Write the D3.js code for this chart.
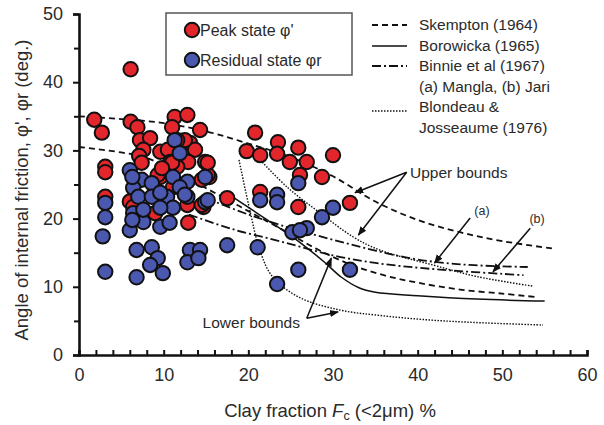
<!DOCTYPE html>
<html>
<head>
<meta charset="utf-8">
<script src="https://cdn.jsdelivr.net/npm/d3@7"></script>
<style>
  html, body { margin: 0; padding: 0; background: #fff; }
  svg { display: block; font-family: Arial, "Liberation Sans", sans-serif; }
</style>
</head>
<body>
<svg id="chart" width="604" height="425"></svg>
<script>
// Peak friction angle φ' (clay fraction %, degrees)
const peakPoints = [
  [1.8,34.5],[2.7,32.6],[3.1,27.6],[3.1,26.8],[3.1,23.2],[6.1,41.9],[6.1,34.2],[6.9,33.4],
  [11.3,34.9],[12.8,35.2],[11.0,33.4],[14.3,33.0],[7.2,31.5],[8.4,31.8],[7.6,30.1],[9.6,29.8],
  [10.5,30.1],[13.1,31.1],[13.7,30.1],[12.9,28.3],[14.9,28.3],[10.8,28.3],[9.6,26.1],[14.5,25.7],
  [11.6,27.6],[7.1,29.2],[15.4,26.1],[17.5,23.0],[19.8,29.9],[20.8,32.6],[21.4,29.3],[23.5,31.2],
  [23.4,29.5],[25.9,30.4],[24.9,28.3],[26.9,28.3],[30.0,29.3],[26.1,26.4],[28.7,26.1],[21.4,23.9],
  [25.9,21.7],[32.0,22.3],[14.7,21.7],[12.9,19.4],[12.5,31.5],[11.6,31.5],[9.3,26.4],[11.0,28.2],
  [15.2,26.4],[11.1,24.6],[12.8,22.0],[14.5,22.0],[6.0,22.5],[6.4,21.7],[9.0,20.8],[9.8,27.4],
  [7.4,28.2],[15.2,28.2]
];

// Residual friction angle φr (clay fraction %, degrees)
const residualPoints = [
  [3.1,22.3],[3.1,20.2],[2.8,17.4],[3.1,12.2],[6.8,15.4],[8.6,15.8],[9.3,14.2],[8.4,13.2],
  [6.8,11.4],[9.9,12.0],[13.1,15.4],[14.3,15.4],[12.8,13.6],[14.1,14.2],[6.0,18.3],[7.6,19.5],
  [6.4,20.8],[11.3,31.5],[11.9,29.6],[6.0,27.1],[7.4,25.7],[6.4,24.5],[8.6,25.2],[11.1,26.1],
  [12.8,25.4],[11.9,24.6],[7.0,23.2],[8.6,23.2],[10.4,23.2],[12.8,23.2],[14.9,22.4],[9.6,23.8],
  [12.5,23.5],[11.1,21.6],[9.6,21.6],[7.6,21.3],[6.3,19.8],[9.6,18.8],[10.7,19.4],[15.2,22.7],
  [21.4,22.7],[23.4,23.5],[23.4,22.4],[25.9,25.2],[30.0,21.6],[28.7,20.2],[26.9,18.6],[25.2,18.0],
  [26.1,18.3],[17.5,16.1],[21.1,15.8],[25.9,12.5],[32.0,12.5],[23.4,10.4],[14.9,26.1],[6.3,26.1]
];

// Published relations (clay fraction %, degrees)
const skemptonUpper = [[0,35],[5,34.6],[10,34],[15,32.8],[20,31],[25,29],[30,26.2],[35,22.5],[40,19.8],[45,18],[50,16.7],[56,15.6]];
const skemptonLower = [[0,30.5],[5,29.7],[8,28.9],[12,26.4],[16,23.8],[20,21.1],[24,18.4],[28,15.6],[32,13.3],[36,11.7],[40,10.6],[45,9.6],[50,9],[54,8.5]];
const borowicka = [[18,23.3],[22,20],[26,16.6],[29,13.6],[31,11.4],[33,9.9],[35,9.2],[40,8.7],[47,8.2],[55,7.9]];
const binnieMangla = [[15,23],[20,20.6],[25,18.6],[30,16.9],[35,15.3],[40,14],[45,13.3],[50,13],[53,12.9]];
const binnieJari = [[13,20.6],[18,18.5],[24,16.6],[30,14.6],[35,13.5],[40,12.8],[45,12.3],[50,11.9],[52.5,11.7]];
const blondeauUpper = [[21.4,28.6],[24.6,24.6],[28.5,20.8],[32.4,17.3],[35.5,15.4],[41.8,13.2],[47,11.5],[53.6,10.1]];
const blondeauLower = [[18.9,28.6],[20.2,21.1],[21.4,15.2],[22.9,11.4],[26.1,8.4],[30.8,6.6],[35.5,5.8],[41.8,5.1],[48,4.7],[54.8,4.4]];

// Axis ticks
const xTickLabels = [0, 10, 20, 30, 40, 50, 60];
const xMinorTicks = d3.range(0, 61, 2);
const yTickLabels = [0, 10, 20, 30, 40, 50];
const yMinorTicks = [5, 15, 25, 35, 45];

const svg = d3.select("#chart");
const x = d3.scaleLinear().domain([0, 60]).range([79, 587]);
const y = d3.scaleLinear().domain([0, 50]).range([355, 14]);

const txt = "#2a2a2a";

// arrowhead marker
svg.append("defs").append("marker")
  .attr("id", "arrow").attr("viewBox", "0 0 10 10").attr("refX", 9).attr("refY", 5)
  .attr("markerWidth", 9).attr("markerHeight", 9).attr("markerUnits", "userSpaceOnUse")
  .attr("orient", "auto")
  .append("path").attr("d", "M0,1 L10,5 L0,9 Z").attr("fill", "#111");

// ---- curves
const line = d3.line().x(d => x(d[0])).y(d => y(d[1])).curve(d3.curveCatmullRom);
const styles = {
  dashed: { dash: "6,4", w: 1.8 },
  solid: { dash: null, w: 1.5 },
  dashdot: { dash: "9,3,2,3", w: 1.8 },
  dotted: { dash: "1.5,1.5", w: 1.4 }
};
const curves = [
  [skemptonUpper, "dashed"], [skemptonLower, "dashed"], [borowicka, "solid"],
  [binnieMangla, "dashdot"], [binnieJari, "dashdot"],
  [blondeauUpper, "dotted"], [blondeauLower, "dotted"]
];
svg.append("g").selectAll("path").data(curves).join("path")
  .attr("d", d => line(d[0]))
  .attr("fill", "none").attr("stroke", "#111")
  .attr("stroke-width", d => styles[d[1]].w)
  .attr("stroke-dasharray", d => styles[d[1]].dash);

// ---- points
const red = "#e3262b", blue = "#4a58b0";
const ptR = 7.2;
svg.append("g").selectAll("circle").data(peakPoints).join("circle")
  .attr("cx", d => x(d[0])).attr("cy", d => y(d[1])).attr("r", ptR)
  .attr("fill", red).attr("stroke", "#111").attr("stroke-width", 2);
svg.append("g").selectAll("circle").data(residualPoints).join("circle")
  .attr("cx", d => x(d[0])).attr("cy", d => y(d[1])).attr("r", ptR)
  .attr("fill", blue).attr("stroke", "#111").attr("stroke-width", 2);

// ---- annotations (data coordinates)
const arrows = [
  [[38.7,26.8],[32.6,23.8]], [[38.7,26.8],[33.0,17.6]],
  [[46.2,20.1],[42.0,13.5]], [[53.3,18.6],[48.9,12.2]],
  [[26.9,5.4],[29.8,14.2]], [[26.9,5.4],[30.6,6.3]]
];
svg.append("g").selectAll("line").data(arrows).join("line")
  .attr("x1", d => x(d[0][0])).attr("y1", d => y(d[0][1]))
  .attr("x2", d => x(d[1][0])).attr("y2", d => y(d[1][1]))
  .attr("stroke", "#111").attr("stroke-width", 1.5).attr("marker-end", "url(#arrow)");

const notes = [
  { t: "Upper bounds", p: [39.1, 26.0], s: 15.5, a: "start" },
  { t: "Lower bounds", p: [14.6, 3.9], s: 15.5, a: "start" },
  { t: "(a)", p: [47.6, 20.6], s: 12.5, a: "middle" },
  { t: "(b)", p: [54.1, 19.4], s: 12.5, a: "middle" }
];
svg.append("g").selectAll("text").data(notes).join("text")
  .attr("x", d => x(d.p[0])).attr("y", d => y(d.p[1]))
  .attr("font-size", d => d.s).attr("text-anchor", d => d.a).attr("fill", txt)
  .text(d => d.t);

// ---- axes
const gy = svg.append("g").attr("transform", `translate(${x(0)},0)`);
gy.call(d3.axisLeft(y).tickValues(yTickLabels).tickSize(6).tickPadding(10).tickFormat(d3.format("d")));
const gy2 = svg.append("g").attr("transform", `translate(${x(0)},0)`);
gy2.call(d3.axisLeft(y).tickValues(yMinorTicks).tickSize(5).tickFormat(""));
gy2.select(".domain").remove();

const gx = svg.append("g").attr("transform", `translate(0,${y(0)})`);
gx.call(d3.axisBottom(x).tickValues(xMinorTicks).tickSize(-5).tickFormat(""));
const gx2 = svg.append("g").attr("transform", `translate(0,${y(0)})`);
gx2.call(d3.axisBottom(x).tickValues(xTickLabels).tickSize(0).tickPadding(13).tickFormat(d3.format("d")));
gx2.select(".domain").remove();

svg.selectAll(".domain").attr("stroke", "#111").attr("stroke-width", 2.6);
svg.selectAll(".tick line").attr("stroke", "#111").attr("stroke-width", 2);
svg.selectAll(".tick text").attr("font-size", 18).attr("fill", txt)
  .attr("font-family", "Arial, 'Liberation Sans', sans-serif");

// axis titles
svg.append("text")
  .attr("transform", `translate(28,190) rotate(-90)`)
  .attr("text-anchor", "middle").attr("font-size", 18.5).attr("fill", txt)
  .text("Angle of internal friction, φ', φr (deg.)");

const xt = svg.append("text").attr("x", 330).attr("y", 417)
  .attr("text-anchor", "middle").attr("font-size", 18.5).attr("fill", txt);
xt.append("tspan").text("Clay fraction ");
xt.append("tspan").attr("font-style", "italic").text("F");
xt.append("tspan").attr("font-size", 12.5).attr("dy", 3).text("c");
xt.append("tspan").attr("dy", -3).text(" (<2μm) %");

// ---- point legend
const lg = svg.append("g");
lg.append("rect").attr("x", 166).attr("y", 13).attr("width", 186).attr("height", 62)
  .attr("fill", "#fff").attr("stroke", "#555").attr("stroke-width", 1.5);
const ptLegend = [["Peak state φ'", red, 30], ["Residual state φr", blue, 60]];
ptLegend.forEach(([label, c, ly]) => {
  lg.append("circle").attr("cx", 192).attr("cy", ly).attr("r", ptR)
    .attr("fill", c).attr("stroke", "#111").attr("stroke-width", 2);
  lg.append("text").attr("x", 200).attr("y", ly + 6).attr("font-size", 16).attr("fill", txt).text(label);
});

// ---- curve legend
const cl = svg.append("g");
const curveLegend = [["Skempton (1964)", "dashed", 25], ["Borowicka (1965)", "solid", 46], ["Binnie et al (1967)", "dashdot", 66], [null, "dotted", 111]];
curveLegend.forEach(([label, st, ly]) => {
  cl.append("line").attr("x1", 372).attr("x2", 407).attr("y1", ly).attr("y2", ly)
    .attr("stroke", "#111").attr("stroke-width", styles[st].w).attr("stroke-dasharray", styles[st].dash);
});
const legendText = [["Skempton (1964)", 30], ["Borowicka (1965)", 51], ["Binnie et al (1967)", 71], ["(a) Mangla, (b) Jari", 92], ["Blondeau &", 112], ["Josseaume (1976)", 133]];
cl.selectAll("text").data(legendText).join("text")
  .attr("x", 419).attr("y", d => d[1]).attr("font-size", 15.5).attr("fill", txt).text(d => d[0]);
</script>
</body>
</html>
